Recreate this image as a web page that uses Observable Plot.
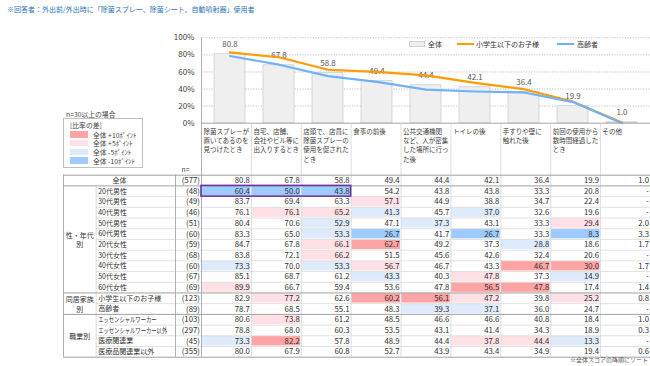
<!DOCTYPE html>
<html><head><meta charset="utf-8">
<script src="https://cdn.jsdelivr.net/npm/d3@7"></script>
<script src="https://cdn.jsdelivr.net/npm/@observablehq/plot@0.6"></script>
<style>
body{margin:0;background:#fff;font-family:"Noto Sans CJK JP","Noto Sans",sans-serif;}
#wrap{position:relative;width:650px;height:366px;overflow:hidden;background:#fff;}
#wrap svg{position:absolute;left:0;top:0;}
.abs{position:absolute;white-space:nowrap;line-height:1;}
</style></head><body><div id="wrap"></div>
<script>
// ---------- data ----------
const categoryLabels = [
  "除菌スプレーが\n置いてあるのを\n見つけたとき",
  "自宅、店舗、\n会社やビル等に\n出入りするとき",
  "店頭で、店員に\n除菌スプレーの\n使用を促された\nとき",
  "食事の前後",
  "公共交通機関\nなど、人が密集\nした場所に行っ\nた後",
  "トイレの後",
  "手すりや壁に\n触れた後",
  "前回の使用から\n数時間経過した\nとき",
  "その他"
];
const seriesNames = ["全体", "小学生以下のお子様", "高齢者"];
const totalValues   = [80.8, 67.8, 58.8, 49.4, 44.4, 42.1, 36.4, 19.9, 1.0];
const kidsValues    = [82.9, 77.2, 62.6, 60.2, 56.1, 47.2, 39.8, 25.2, 0.8];
const elderlyValues = [78.7, 68.5, 55.1, 48.3, 39.3, 37.1, 36.0, 24.7, null];
const yTicks = [0, 20, 40, 60, 80, 100];

const rowLabels = ["全体","20代男性","30代男性","40代男性","50代男性","60代男性","20代女性","30代女性","40代女性","50代女性","60代女性",
  "小学生以下のお子様","高齢者","エッセンシャルワーカー","エッセンシャルワーカー以外","医療関連業","医療品関連業以外"];
const rowN = [577,48,49,46,51,60,59,68,60,67,69,123,89,103,297,45,355];
const rowValues = [
  [80.8,67.8,58.8,49.4,44.4,42.1,36.4,19.9,1.0],
  [60.4,50.0,43.8,54.2,43.8,43.8,33.3,20.8,null],
  [83.7,69.4,63.3,57.1,44.9,38.8,34.7,22.4,null],
  [76.1,76.1,65.2,41.3,45.7,37.0,32.6,19.6,null],
  [80.4,70.6,52.9,47.1,37.3,43.1,33.3,29.4,2.0],
  [83.3,65.0,53.3,26.7,41.7,26.7,33.3,8.3,3.3],
  [84.7,67.8,66.1,62.7,49.2,37.3,28.8,18.6,1.7],
  [83.8,72.1,66.2,51.5,45.6,42.6,32.4,20.6,null],
  [73.3,70.0,53.3,56.7,46.7,43.3,46.7,30.0,1.7],
  [85.1,68.7,61.2,43.3,40.3,47.8,37.3,14.9,null],
  [89.9,66.7,59.4,53.6,47.8,56.5,47.8,17.4,1.4],
  [82.9,77.2,62.6,60.2,56.1,47.2,39.8,25.2,0.8],
  [78.7,68.5,55.1,48.3,39.3,37.1,36.0,24.7,null],
  [80.6,73.8,61.2,48.5,46.6,46.6,40.8,18.4,1.0],
  [78.8,68.0,60.3,53.5,43.1,41.4,34.3,18.9,0.3],
  [73.3,82.2,57.8,48.9,44.4,37.8,44.4,13.3,null],
  [80.0,67.9,60.8,52.7,43.9,43.4,34.9,19.4,0.6]
];
const rowDiff = [
  ["","","","","","","","",""],
  ["-10","-10","-10","","","","","",""],
  ["","","","+5","","","","",""],
  ["","+5","+5","-5","","-5","","",""],
  ["","","-5","","-5","","","+5",""],
  ["","","-5","-10","","-10","","-10",""],
  ["","","+5","+10","","","-5","",""],
  ["","","+5","","","","","",""],
  ["-5","","-5","+5","","","+10","+10",""],
  ["","","","-5","","+5","","-5",""],
  ["+5","","","","","+10","+10","",""],
  ["","+5","","+10","+10","+5","","+5",""],
  ["","","","","-5","-5","","",""],
  ["","+5","","","","","","",""],
  ["","","","","","","","",""],
  ["-5","+10","","","","+5","+5","-5",""],
  ["","","","","","","","",""]
];
const groupNames = ["性・年代\n別", "同居家族\n別", "職業別"];
const groupSizes = [10, 2, 4];
const diffClasses = ["+10", "+5", "-5", "-10"];
const diffLabels = ["全体 +10ﾎﾟｲﾝﾄ", "全体 +5ﾎﾟｲﾝﾄ", "全体 -5ﾎﾟｲﾝﾄ", "全体 -10ﾎﾟｲﾝﾄ"];
const diffColors = ["#FFA4A4", "#FFE0E4", "#DDEBFC", "#9DCBFF"];
const highlightRow = "20代男性";
const highlightCols = 3;
const titleText = "※回答者：外出前/外出時に「除菌スプレー、除菌シート、自動噴射器」使用者";
const noteText = "※全体スコアの降順にソート";
const legendTitle = "n=30以上の場合";
const legendHeader = "[比率の差]";

// ---------- helpers ----------
const FONT = '"Noto Sans CJK JP","Noto Sans",sans-serif';
const fmt = d3.format(".1f");
const wrap = document.getElementById("wrap");
const seriesColors = ["#EFEFEF", "#FF9A00", "#6DB3FB"];

const chartData = categoryLabels.map((c, i) => ({cat: c, total: totalValues[i], kids: kidsValues[i], elderly: elderlyValues[i] ?? 0}));

// ---------- chart ----------
const chart = Plot.plot({
  width: 650, height: 125,
  marginLeft: 201, marginRight: 0, marginTop: 37.3, marginBottom: 2.3,
  style: {background: "transparent", fontFamily: FONT, fontSize: "8px", color: "#404040", overflow: "visible"},
  x: {domain: categoryLabels, paddingInner: 0.36, paddingOuter: 0.18, axis: null},
  y: {domain: [0, 100], ticks: yTicks, tickFormat: d => d + "%", tickSize: 0, tickPadding: 7, label: null},
  marks: [
    Plot.ruleY(yTicks.filter(t => t > 0), {stroke: "#C4C4C4", strokeDasharray: "1.3,1.3"}),
    Plot.barY(chartData, {x: "cat", y: "total", fill: seriesColors[0], stroke: "#CFCFCF", strokeWidth: 0.8}),
    Plot.text(chartData, {x: "cat", y: "total", text: d => fmt(d.total), dy: -10, fill: "#595959", fontSize: 8}),
    Plot.line(chartData, {x: "cat", y: "kids", stroke: seriesColors[1], strokeWidth: 2.2}),
    Plot.line(chartData, {x: "cat", y: "elderly", stroke: seriesColors[2], strokeWidth: 2.2}),
    Plot.ruleY([0], {stroke: "#A6A6A6"})
  ]
});
wrap.appendChild(chart);

// ---------- table ----------
const G0 = -2.766, G1 = -2.111, G2 = -0.521;   // left table columns, in column units
const HEAD = -4.857, CHART_TOP = -12.834;        // header top / chart top, in row units
const nRows = rowLabels.length, nCols = categoryLabels.length;

const cells = [];
rowValues.forEach((vals, r) => vals.forEach((v, c) => cells.push({row: r, col: c, v, cls: rowDiff[r][c]})));
const rows = rowLabels.map((l, i) => ({i, label: l, n: rowN[i]}));
const groups = [];
{ let s = 1; groupNames.forEach((g, k) => { groups.push({name: g, start: s, size: groupSizes[k]}); s += groupSizes[k]; }); }
const groupBounds = new Set([0, 1, ...groups.map(g => g.start + g.size)]);
const hLines = d3.range(nRows + 1).map(b => ({b, major: groupBounds.has(b)}));
const vLines = [
  {x: G0, y1: 0, major: true}, {x: G1, y1: 1, major: false}, {x: G2, y1: 0, major: true},
  ...d3.range(nCols + 1).map(k => ({x: k, y1: k === 0 ? CHART_TOP : HEAD, major: k === 0}))
];
const hiRow = rowLabels.indexOf(highlightRow);

const table = Plot.plot({
  width: 650, height: 366,
  marginLeft: 63, marginRight: 0, marginTop: 37.3, marginBottom: 9.3,
  style: {background: "transparent", fontFamily: FONT, fontSize: "7.5px", color: "#333", overflow: "visible"},
  x: {domain: [G0, nCols], axis: null},
  y: {domain: [nRows, CHART_TOP], axis: null},
  color: {domain: diffClasses, range: diffColors},
  marks: [
    Plot.rect(cells.filter(d => d.cls), {x1: d => d.col, x2: d => d.col + 1, y1: d => d.row, y2: d => d.row + 1, fill: "cls", inset: 0.6}),
    Plot.ruleY(hLines.filter(d => !d.major), {y: "b", x1: () => G1, x2: () => nCols, stroke: "#D9D9D9", strokeWidth: 0.8}),
    Plot.ruleX(vLines.filter(d => !d.major), {x: "x", y1: "y1", y2: () => nRows, stroke: "#D6D6D6", strokeWidth: 0.8}),
    Plot.ruleX(vLines.filter(d => d.major), {x: "x", y1: "y1", y2: () => nRows, stroke: "#A8A8A8", strokeWidth: 0.9}),
    Plot.ruleY(hLines.filter(d => d.major), {y: "b", x1: () => G0, x2: () => nCols, stroke: "#A0A0A0", strokeWidth: 1}),
    // header labels
    Plot.text(categoryLabels, {x: (d, i) => i, y: () => HEAD, text: d => d, textAnchor: "start", lineAnchor: "top",
      dx: 2, dy: 4, fontSize: 6.5, lineHeight: 1.43, fill: "#404040"}),
    Plot.text(["n="], {x: () => 0, y: () => 0, text: d => d, dx: -16, dy: -5, fontSize: 6.8, fill: "#404040"}),
    // values
    Plot.text(cells, {x: d => d.col + 1, y: d => d.row + 0.5, text: d => d.v == null ? "-" : fmt(d.v),
      textAnchor: "end", dx: -1.5, fontSize: 7.8, fill: "#333"}),
    // n
    Plot.text(rows, {x: () => 0, y: d => d.i + 0.5, text: d => `(${d.n})`, textAnchor: "end", dx: -1.5, fontSize: 7.8, fill: "#333"}),
    // row labels
    Plot.text(rows.slice(1), {x: () => G1, y: d => d.i + 0.5, text: "label", textAnchor: "start", dx: 2, fontSize: 7, fill: "#333"}),
    Plot.text(rows.slice(0, 1), {x: () => (G0 + G2) / 2, y: d => d.i + 0.5, text: "label", fontSize: 7, fill: "#333"}),
    // group labels
    Plot.text(groups, {x: () => (G0 + G1) / 2, y: d => d.start + d.size / 2, text: "name", fontSize: 7, lineHeight: 1.38, fill: "#333"}),
    // highlight box
    Plot.rect([{row: hiRow}], {x1: () => 0, x2: () => highlightCols, y1: d => d.row, y2: d => d.row + 1,
      fill: "none", stroke: "#7030A0", strokeWidth: 1.6})
  ]
});
wrap.appendChild(table);

// narrow the katakana-heavy row labels (reference font has narrow kana)
{
  const labelSet = new Set(rowLabels.slice(1));
  const maxW = (G2 - G1) * 49.89 - 5;
  table.querySelectorAll("text").forEach(t => {
    if (!labelSet.has(t.textContent)) return;
    const w = t.getComputedTextLength();
    let target = w;
    if (/[ァ-ヶー]{4,}/.test(t.textContent)) target = w * 0.76;
    target = Math.min(target, maxW);
    if (target < w - 0.5) {
      const k = target / w;
      const tr = t.getAttribute("transform");
      if (tr && /translate/.test(tr)) {
        t.setAttribute("transform", `${tr} scale(${k.toFixed(3)},1)`);
      } else {
        t.setAttribute("textLength", target.toFixed(1));
        t.setAttribute("lengthAdjust", "spacingAndGlyphs");
      }
    }
  });
}

// ---------- HTML texts & legends ----------
function addText(txt, x, yc, size, color, anchor = "start", extra = "") {
  const d = document.createElement("div");
  d.className = "abs";
  d.textContent = txt;
  const tx = anchor === "end" ? "-100%" : anchor === "middle" ? "-50%" : "0";
  d.style.cssText += `left:${x}px;top:${yc}px;font-size:${size}px;color:${color};transform:translate(${tx},-50%);${extra}`;
  wrap.appendChild(d);
  return d;
}
function addBox(x, y, w, h, css) {
  const d = document.createElement("div");
  d.style.cssText = `position:absolute;left:${x}px;top:${y}px;width:${w}px;height:${h}px;box-sizing:border-box;${css}`;
  wrap.appendChild(d);
  return d;
}

addText(titleText, 7, 8.5, 7, "#2E75B6");
addText(noteText, 648, 360, 6, "#595959", "end");

// top legend
addBox(409, 41.3, 16, 6, `background:${seriesColors[0]};border:0.8px solid #CFCFCF;`);
addText(seriesNames[0], 428, 44.3, 7, "#333");
addBox(457, 43.2, 17, 2.2, `background:${seriesColors[1]};`);
addText(seriesNames[1], 476, 44.3, 7, "#333");
addBox(557, 43.2, 17, 2.2, `background:${seriesColors[2]};`);
addText(seriesNames[2], 577, 44.3, 7, "#333");

// left diff legend
addText(legendTitle, 66, 113.5, 6.8, "#404040");
addBox(63, 118, 80, 50, "border:1px solid #C0C0C0;background:#fff;");
addText(legendHeader, 70, 124.5, 6.8, "#404040");
diffClasses.forEach((c, k) => {
  const yc = 134.5 + k * 8.7;
  addBox(70, yc - 3.2, 18, 6.4, `background:${diffColors[k]};`);
  addText(diffLabels[k], 93, yc, 6.8, "#404040");
});
</script>
</body></html>
